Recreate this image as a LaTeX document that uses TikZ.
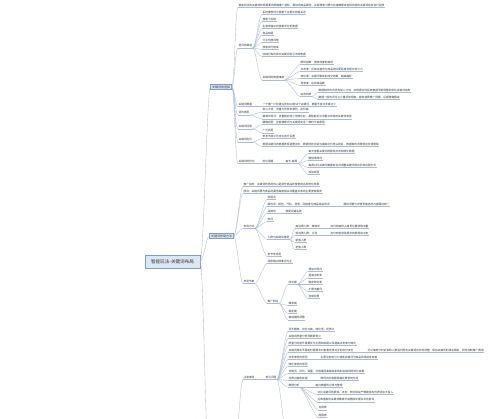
\documentclass[tikz,border=0pt]{standalone}
\usepackage{fontspec}
\setmainfont{Noto Sans CJK SC}
\usetikzlibrary{calc}

\definecolor{linkblue}{HTML}{A9BDDA}
\definecolor{boxfill}{HTML}{DDE7F4}
\definecolor{boxline}{HTML}{7F9DCB}
\definecolor{txt}{HTML}{333333}

\tikzset{
  uline/.style={draw=linkblue, line width=0.35pt},
  leaf/.style={font=\fontsize{2.7}{3}\selectfont, text=txt, anchor=south west,
    inner xsep=0.4pt, inner ysep=0.7pt,
    append after command={(\tikzlastnode.south west) edge[uline] (\tikzlastnode.south east)}},
  topic/.style={draw=boxline, fill=boxfill, line width=0.4pt, text=txt,
    font=\fontsize{3}{3.5}\selectfont, inner xsep=1.5pt, inner ysep=1.3pt},
  rootbox/.style={draw=boxline, fill=boxfill, line width=0.6pt, text=txt,
    font=\fontsize{4.6}{5}\selectfont, minimum width=55pt, minimum height=13pt},
  link/.style={draw=linkblue, line width=0.35pt,
    to path={.. controls ([xshift=3pt]\tikztostart) and ([xshift=-3pt]\tikztotarget) .. (\tikztotarget)}}
}

\begin{document}
\begin{tikzpicture}[x=1pt, y=-1pt]
  \fill[white] (0,0) rectangle (500,419);
  \clip (0,0) rectangle (500,419);

  % 中心主题与一级主题
  \node[rootbox] (root) at (172.5,261.5) {智能玩法-关键词布局};
  \node[topic] (la) at (221,87) {关键词的选择};
  \node[topic] (lb) at (221.5,236) {关键词布局方法};
  \coordinate (lc) at (209,470);
  \coordinate (lce) at (233,470);

  \draw[link] (root.east) to (la.west);
  \draw[link] (root.east) to (lb.west);
  \draw[link] (root.east) to (lc);

  % 关键词的选择
  \node[leaf] (a0) at (238,7.5) {智能玩法的关键词布局需要先明确推广目标，再结合商品属性、买家搜索习惯与店铺数据来选择合适的关键词组合进行投放};
  \node[leaf] (a1) at (238,48) {选词的渠道};
  \node[leaf] (a11) at (262,14.5) {系统推荐词与搜索下拉框中的相关词};
  \node[leaf] (a12) at (262,21.5) {搜索下拉框};
  \node[leaf] (a13) at (262,28.5) {生意参谋中的搜索词分析数据};
  \node[leaf] (a14) at (262,35.5) {竞品标题};
  \node[leaf] (a15) at (262,42.5) {行业热搜词榜};
  \node[leaf] (a16) at (262,49.5) {搜索排行榜单};
  \node[leaf] (a17) at (262,56.5) {店铺已有的成交关键词及引流词数据};
  \node[leaf] (a18) at (262,80) {关键词的数据维度};
  \node[leaf] (a181) at (300,64.5) {展现指数：搜索热度的高低};
  \node[leaf] (a182) at (300,71.5) {点击率：反映关键词与商品的匹配程度及图片吸引力};
  \node[leaf] (a183) at (300,78.5) {转化率：关键词带来的成交效果，越高越好};
  \node[leaf] (a184) at (300,85.5) {竞争度：在线商品数};
  \node[leaf] (a185) at (300,96.5) {综合判断};
  \node[leaf] (a1851) at (318,92.5) {数据较好的词优先加入计划，并根据实际投放数据不断调整和优化关键词结构};
  \node[leaf] (a1852) at (318,99.5) {数据一般的词可以少量添加观察，避免浪费推广预算，后期再做删减};
  \node[leaf] (a2) at (238,106.5) {关键词数量};
  \node[leaf] (a21) at (262,106.5) {一个推广计划建议添加20到50个关键词，数量不宜过多或过少};
  \node[leaf] (a3) at (238,115) {词的类型};
  \node[leaf] (a31) at (262,112) {核心大词：流量大但竞争激烈，出价高};
  \node[leaf] (a32) at (262,119) {精准长尾词：流量相对较小但转化好，是智能玩法中重点布局的关键词类型};
  \node[leaf] (a4) at (238,129) {关键词匹配};
  \node[leaf] (a41) at (262,124.5) {精确匹配：买家搜索词与关键词完全一致时才会展现};
  \node[leaf] (a42) at (262,133) {广泛匹配};
  \node[leaf] (a5) at (238,142) {关键词出价};
  \node[leaf] (a51) at (262,138.5) {参考市场平均出价进行设置};
  \node[leaf] (a52) at (262,146.5) {根据关键词的数据表现调整出价，数据好的词适当提高出价抢占排名，数据差的词降低出价或删除};
  \node[leaf] (a6) at (238,163.5) {关键词的优化};
  \node[leaf] (a61) at (262,163.5) {优化周期};
  \node[leaf] (a62) at (285,163.5) {每天-每周};
  \node[leaf] (a621) at (308,153.5) {每天查看关键词的展现点击和转化数据};
  \node[leaf] (a622) at (308,160.5) {删除低效词};
  \node[leaf] (a623) at (308,167.5) {每周对比关键词数据变化并调整关键词的出价和匹配方式};
  \node[leaf] (a624) at (308,174.5) {添加新词};

  \foreach \c in {a0,a1,a2,a3,a4,a5,a6}
    \draw[link] (la.east) to (\c.south west);
  \foreach \c in {a11,a12,a13,a14,a15,a16,a17,a18}
    \draw[link] (a1.south east) to (\c.south west);
  \foreach \c in {a181,a182,a183,a184,a185}
    \draw[link] (a18.south east) to (\c.south west);
  \foreach \c in {a1851,a1852}
    \draw[link] (a185.south east) to (\c.south west);
  \draw[link] (a2.south east) to (a21.south west);
  \foreach \c in {a31,a32}
    \draw[link] (a3.south east) to (\c.south west);
  \foreach \c in {a41,a42}
    \draw[link] (a4.south east) to (\c.south west);
  \foreach \c in {a51,a52}
    \draw[link] (a5.south east) to (\c.south west);
  \draw[link] (a6.south east) to (a61.south west);
  \draw[link] (a61.south east) to (a62.south west);
  \foreach \c in {a621,a622,a623,a624}
    \draw[link] (a62.south east) to (\c.south west);

  % 关键词布局方法
  \node[leaf] (b1) at (243,186.5) {推广目的：关键词布局的核心是提升商品的搜索排名及转化效果};
  \node[leaf] (b2) at (243,193.5) {原则：关键词要与商品的属性高度相关并覆盖买家的主要搜索需求};
  \node[leaf] (b3) at (243,228.5) {布局方式};
  \node[leaf] (b31) at (267,199.5) {标题词};
  \node[leaf] (b32) at (267,206.5) {属性词：颜色、尺码、材质、风格等与商品相关的词};
  \node[leaf] (b321) at (343,206.5) {属性词要与详情页描述的内容保持统一};
  \node[leaf] (b33) at (267,213.5) {品牌词};
  \node[leaf] (b331) at (285,213.5) {搭配店铺名称};
  \node[leaf] (b34) at (267,221.5) {热词};
  \node[leaf] (b35) at (267,239.5) {人群与关键词搭配};
  \node[leaf] (b351) at (295,228.5) {高消费人群：精准词};
  \node[leaf] (b3511) at (330,228.5) {出价较高抢占首页位置获取流量};
  \node[leaf] (b352) at (295,235.5) {低消费人群：泛词};
  \node[leaf] (b3521) at (330,235.5) {出价较低获取更多的展现和点击};
  \node[leaf] (b353) at (295,242.5) {新客人群};
  \node[leaf] (b354) at (295,249.5) {老客人群};
  \node[leaf] (b36) at (267,256.5) {季节性词语};
  \node[leaf] (b4) at (243,283.5) {布局节奏};
  \node[leaf] (b41) at (267,263.5) {测款期以精准词为主};
  \node[leaf] (b42) at (267,303.5) {推广阶段};
  \node[leaf] (b421) at (288,284.5) {成长期};
  \node[leaf] (b4211) at (308,271.5) {增加长尾词};
  \node[leaf] (b4212) at (308,278) {提高点击率};
  \node[leaf] (b4213) at (308,284.5) {稳定转化率};
  \node[leaf] (b4214) at (308,291.5) {扩展流量词};
  \node[leaf] (b4215) at (308,298.5) {控制花费};
  \node[leaf] (b422) at (288,305.5) {爆发期};
  \node[leaf] (b423) at (288,313.5) {稳定期};
  \node[leaf] (b424) at (288,320) {衰退期的调整};

  \foreach \c in {b1,b2,b3,b4}
    \draw[link] (lb.east) to (\c.south west);
  \foreach \c in {b31,b32,b33,b34,b35,b36}
    \draw[link] (b3.south east) to (\c.south west);
  \draw[link] (b32.south east) to (b321.south west);
  \draw[link] (b33.south east) to (b331.south west);
  \foreach \c in {b351,b352,b353,b354}
    \draw[link] (b35.south east) to (\c.south west);
  \draw[link] (b351.south east) to (b3511.south west);
  \draw[link] (b352.south east) to (b3521.south west);
  \foreach \c in {b41,b42}
    \draw[link] (b4.south east) to (\c.south west);
  \foreach \c in {b421,b422,b423,b424}
    \draw[link] (b42.south east) to (\c.south west);
  \foreach \c in {b4211,b4212,b4213,b4214,b4215}
    \draw[link] (b421.south east) to (\c.south west);

  % 注意事项
  \node[leaf] (c1) at (243,379.5) {注意事项};
  \node[leaf] (c11) at (265,379.5) {常见问题};
  \node[leaf] (c111) at (288,331.5) {词不精准、出价过高、转化低、花费大};
  \node[leaf] (c112) at (288,338.5) {关键词质量分低导致展现少};
  \node[leaf] (c113) at (288,345.5) {质量分的提升需要优化主图和标题以及提高点击率与转化};
  \node[leaf] (c114) at (288,352.5) {关键词排名不稳定时需要及时查看竞争对手的出价变化};
  \node[leaf] (c1141) at (367,352.5) {可以使用分时折扣和人群溢价配合关键词出价的调整，保持关键词的排名稳定，同时控制推广费用};
  \node[leaf] (c115) at (288,359.5) {点击率低的原因};
  \node[leaf] (c1151) at (320,359.5) {主图没有吸引力或者关键词与商品的相关性较差};
  \node[leaf] (c116) at (288,366.5) {转化率低的原因};
  \node[leaf] (c117) at (288,373.5) {详情页、评价、销量、价格等因素都会影响到关键词的转化效果};
  \node[leaf] (c118) at (288,380.5) {花费过高的处理};
  \node[leaf] (c1181) at (320,380.5) {降低出价或删除高花费低转化词};
  \node[leaf] (c119) at (288,387.5) {数据分析};
  \node[leaf] (c1191) at (315,387.5) {每日数据的记录与整理};
  \node[leaf] (c1192) at (317,394.5) {对比关键词的展现、点击、转化和投产数据找出优质词加大投入};
  \node[leaf] (c1193) at (317,402) {对数据差的关键词做降价或删除处理并补充新词};
  \node[leaf] (c1194) at (318,410) {日报表};
  \node[leaf] (c1195) at (318,417.5) {周报表};
  \coordinate (c11more) at (288,445);

  \draw[link] (lce) to (c1.south west);
  \draw[link] (c1.south east) to (c11.south west);
  \foreach \c in {c111,c112,c113,c114,c115,c116,c117,c118,c119}
    \draw[link] (c11.south east) to (\c.south west);
  \draw[link] (c11.south east) to (c11more);
  \draw[link] (c114.south east) to (c1141.south west);
  \draw[link] (c115.south east) to (c1151.south west);
  \draw[link] (c118.south east) to (c1181.south west);
  \foreach \c in {c1191,c1192,c1193,c1194,c1195}
    \draw[link] (c119.south east) to (\c.south west);
\end{tikzpicture}
\end{document}
